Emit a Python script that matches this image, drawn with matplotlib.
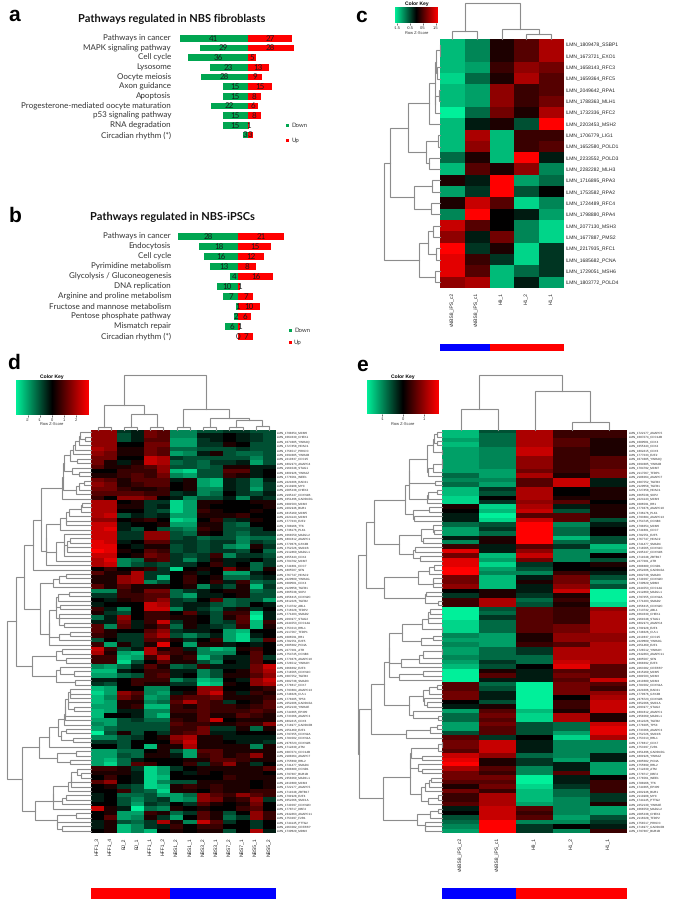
#!/usr/bin/env python
# coding=utf-8
import numpy as np
import matplotlib
matplotlib.use('Agg')
import matplotlib.pyplot as plt
from matplotlib.colors import LinearSegmentedColormap, ListedColormap

plt.rcParams['text.hinting'] = 'no_hinting'
plt.rcParams['text.hinting_factor'] = 1

W, H = 675, 901

# bar panels
a_paths = ['Pathways in cancer', 'MAPK signaling pathway', 'Cell cycle', 'Lysosome', 'Oocyte meiosis',
           'Axon guidance', 'Apoptosis', 'Progesterone-mediated oocyte maturation', 'p53 signaling pathway',
           'RNA degradation', 'Circadian rhythm (*)']
a_down = [41, 29, 36, 23, 28, 15, 15, 22, 15, 15, 3]
a_up = [27, 28, 5, 13, 9, 15, 8, 6, 8, 1, 3]

b_paths = ['Pathways in cancer', 'Endocytosis', 'Cell cycle', 'Pyrimidine metabolism', 'Glycolysis / Gluconeogenesis',
           'DNA replication', 'Arginine and proline metabolism', 'Fructose and mannose metabolism',
           'Pentose phosphate pathway', 'Mismatch repair', 'Circadian rhythm (*)']
b_down = [28, 18, 16, 13, 4, 10, 7, 1, 2, 6, 0]
b_up = [21, 15, 12, 8, 16, 1, 7, 10, 6, 1, 7]

c_cols = ['vNBS8_iPS_c2', 'vNBS8_iPS_c1', 'H9_1', 'H1_2', 'H1_1']
c_rows = ['ILMN_1809478_SSBP1', 'ILMN_1673721_EXO1', 'ILMN_1658143_RFC3', 'ILMN_1659364_RFC5', 'ILMN_2049642_RPA1',
          'ILMN_1788363_MLH1', 'ILMN_1732336_RFC2', 'ILMN_2203453_MSH2', 'ILMN_1706779_LIG1', 'ILMN_1652580_POLD1',
          'ILMN_2233552_POLD3', 'ILMN_2282282_MLH3', 'ILMN_1716895_RPA3', 'ILMN_1753582_RPA2', 'ILMN_1724489_RFC4',
          'ILMN_1798880_RPA4', 'ILMN_2077130_MSH3', 'ILMN_1677887_PMS2', 'ILMN_2217935_RFC1', 'ILMN_1685682_PCNA',
          'ILMN_1729051_MSH6', 'ILMN_1803772_POLD4']
c_vals = [
    [-7, -5, 1, 3, 6], [-7, -5, 1, 3, 6], [-7, -6, 2, 5, 4], [-8, -4, 1, 6, 3], [-7, -6, 5, 2, 3],
    [-7, -6, 5, 2, 4], [-9, -4, 4, 1, 6], [-7, -1, 1, -3, 9], [-7, 6, -7, 2, 2], [-7, 5, -7, 2, 3],
    [-4, 1, -7, 9, -1], [-7, 3, 1, 5, -5], [1, -1, 9, -6, -4], [-6, -2, 9, -3, 0], [1, 7, 3, -8, -5],
    [-5, 9, 0, -1, -6], [7, 3, 0, -5, -8], [5, -1, 4, -5, -8], [9, -2, 1, -8, -2], [8, 2, -2, -8, -2],
    [8, 3, -7, -4, -2], [5, 6, -7, -1, -6],
]
c_groups = [0, 0, 1, 1, 1]

# heatmap d
d_cols = ['HFF1_3', 'HFF1_4', 'BJ_2', 'BJ_1', 'HFF1_1', 'HFF1_2', 'NBS1_2', 'NBS1_1', 'NBS3_2', 'NBS3_1',
          'NBS7_2', 'NBS7_1', 'NBS5_1', 'NBS5_2']
d_rows = ['1798654_MCM6', '1664630_CHEK1', '1674385_YWHAQ', '1727458_HDAC1', '1758517_PRKDC', '1694385_YWHAB',
          '2210837_CDC25', '1802973_ANAPC4', '2161048_STAG1', '1801926_YWHAZ', '1778561_WEE1', '2221606_RAD21',
          '2110908_MYC', '2085238_CHEK2', '2195247_CDKN1B', '1651496_GADD45G', '1681503_MCM2', '2202946_BUB1',
          '1815169_MCM5', '2224143_MCM3', '1777233_E2F2', '1788166_TTK', '1736176_PLK1', '1668550_MAD2L2',
          '1804812_ANAPC1', '1779376_GSK3B', '1752526_SMC1B', '2112460_MAD2L1', '1655443_CDK2', '1704792_MCM7',
          '1741801_CDC7', '1805507_SFN', '1767747_HDAC2', '2229809_YWHAG', '1689001_CDK4', '2129658_TGFB1',
          '1665538_SKP2', '1656415_CDKN2C', '1812026_TGFB2', '1713732_ABL1', '1716028_TFDP2', '1771203_SMAD2',
          '2093977_STAG2', '2244553_CDC14A', '1753013_RBL1', '2117567_TFDP1', '1686591_RB1', '1782551_E2F5',
          '1685682_PCNA', '2277201_ATR', '1754745_CCNB3', '1770376_ANAPC10', '1728512_YWHAH', '1668692_E2F3',
          '1718565_CDKN1C', '1687552_TGFB3', '1682738_SMAD3', '1778817_CDK7', '1793884_ANAPC13', '1748626_CUL1',
          '1778205_TP53', '2052206_GADD45A', '2252130_YWHAE', '1744665_EP300', '1733066_ANAPC2', '1802615_CDK6',
          '1718977_GADD45B', '2051469_E2F1', '1797255_CDKN2A', '1784002_CDKN1A', '2376723_CDKN2B', '1712630_ATM',
          '1687074_CDC14B', '2188264_ANAPC7', '1755899_RBL2', '1741477_SMAD4', '1688480_CCND1', '1797307_BUB1B',
          '2358069_MAD1L1', '2410880_MCM4', '1722177_ANAPC5', '1711048_ZBTB17', '1791928_E2F4', '1652066_SMC1A',
          '1740097_CDKN2D', '1778717_DBF4', '2342663_ANAPC11', '1753297_F2R1', '1744145_PTTG2', '2263082_CREBBP',
          '1739829_MDM2']
d_vals = [
    [5, 5, -2, -1, 4, 3, -5, -5, -3, -3, -2, -2, -3, -3],
    [5, 5, -3, -1, 4, 3, -5, -5, -1, -1, 0, -1, -2, -3],
    [5, 5, -3, -1, 3, 3, -6, -6, -2, -1, 0, -1, -2, -3],
    [5, 5, 0, 0, 4, 4, -6, -6, -2, -2, 1, 0, -3, -3],
    [6, 5, 1, 1, 4, 3, -4, -4, -3, -3, -3, -2, -3, -3],
    [5, 4, 1, 1, 4, 3, -6, -5, -1, 1, -3, -4, -4, -3],
    [4, 4, 0, 0, 7, 6, -2, -3, -3, -3, -3, -3, -5, -3],
    [4, 1, -1, 1, 7, 6, -4, -3, -4, -2, -2, -1, -6, -3],
    [3, 1, 1, 2, 3, 5, -3, -3, -4, -3, 1, 1, -1, -1],
    [0, 0, 2, 2, 2, 5, -7, -8, -3, -3, 3, 3, -1, 0],
    [1, 1, 2, 3, 2, 4, -5, -6, -3, -3, 2, 1, -1, 0],
    [4, 3, 1, 3, 3, 3, -1, 1, -6, -7, -1, -2, -5, -1],
    [5, 4, 1, 2, 3, 3, 0, 1, -6, -7, -1, -2, -5, -2],
    [4, 4, 2, 1, 1, 2, 0, 1, -5, -5, -1, -2, -6, -2],
    [3, 3, 3, 3, 2, 2, -2, -1, -5, -4, 0, -2, -3, -1],
    [2, 0, 5, 5, 4, 0, -1, -5, -3, -3, -1, -5, -1, -2],
    [6, 6, 0, 1, -2, -2, -8, -6, 1, 1, 0, 0, 1, 1],
    [6, 6, 1, 1, -2, -1, -8, -6, 1, 0, 0, 0, 0, 1],
    [6, 6, 0, 0, -2, -3, -8, -6, 2, 1, 0, 0, 1, 0],
    [6, 7, -3, -1, -2, -1, -6, -6, 1, 1, 1, 2, 0, 0],
    [5, 5, 0, 1, 2, 0, -8, -7, 0, 2, -2, -1, 1, 0],
    [7, 7, -1, 0, 0, 1, -6, -6, 1, 1, -3, -4, 0, 0],
    [7, 8, -1, -3, 0, -3, -4, -5, 2, 1, -3, -3, -2, 0],
    [7, 7, -2, -2, 5, 5, -3, -4, 1, 0, -3, -4, -2, -2],
    [7, 7, -2, -2, 5, 5, -3, -2, -4, -3, -3, -5, -4, -4],
    [8, 7, -1, 0, 3, 3, -2, -2, -3, -2, -2, -5, -2, -3],
    [8, 8, 0, -1, 1, 1, -3, -2, -3, -2, -5, -6, 1, -2],
    [9, 8, 1, 0, 3, 2, -3, -2, -3, -2, -2, -3, 0, -4],
    [7, 7, 0, 1, 4, 3, -2, -3, -2, 2, -5, -2, -2, -3],
    [6, 8, -5, -4, 2, 3, -2, -5, -2, 1, -1, -1, 0, -2],
    [6, 7, -5, -3, -2, -3, -2, -2, 0, 2, -1, 0, -4, -2],
    [0, 2, 0, 1, 2, -2, -8, 0, 1, 0, 4, 1, -4, 1],
    [3, 1, 1, 6, -2, -2, 0, 1, -1, 0, -6, -6, -1, 0],
    [1, 1, 5, 6, -2, -7, 0, 2, 0, 1, -4, -4, -2, -1],
    [1, 1, 5, 6, -5, -3, 0, 2, 0, 2, -1, 2, -4, -3],
    [3, 1, 3, 1, 1, 1, 0, 1, -5, -1, -3, 1, -7, -2],
    [-5, -5, 2, 1, 4, 4, -4, -2, -1, 0, 1, 1, -4, -3],
    [-2, -2, 2, 2, 3, 3, -4, -6, -1, -1, 0, 1, -3, -3],
    [0, -1, 1, 2, 3, 5, -2, -3, 0, 3, -4, -3, -3, -6],
    [-1, 0, 0, 0, 7, 6, -2, -1, -1, -3, -4, -3, 0, -1],
    [2, -1, -5, 0, 7, 7, -5, -1, -2, -4, -1, 1, -2, 0],
    [1, -2, -3, 0, 2, 2, 0, 3, -1, -3, 2, 2, -8, -1],
    [-4, -1, 5, 0, 2, 2, 1, 1, 0, -3, 1, 3, -9, -1],
    [-1, -1, 4, -1, 2, 7, -2, 1, 0, -3, -2, 3, -7, 2],
    [3, -5, 3, -1, 1, 3, -4, 1, -1, -2, -3, 2, -7, 1],
    [3, 1, 0, 0, 3, 5, -2, -1, -1, 0, -6, -7, 0, 0],
    [2, 1, -2, -2, 4, 6, -3, -5, -3, -1, -6, -8, -1, 0],
    [-3, 0, -2, -2, 3, 3, 1, -2, 0, 2, -6, -8, -3, 3],
    [2, -6, 1, -2, 1, 8, 0, -6, 1, 1, -1, 0, -1, 0],
    [7, 2, -3, -1, 6, 1, 2, -1, -5, -7, -6, 1, 2, 0],
    [6, 1, -6, -7, 6, 3, 2, 1, -5, -5, -5, 0, 3, 0],
    [2, 2, -7, -6, 2, 6, 1, 2, -7, -4, -1, -1, 3, -2],
    [2, 2, -8, -3, 0, 3, 1, 1, -3, -5, 0, -1, 3, 0],
    [-5, -6, -4, -1, 3, 1, -4, -3, 2, -1, -1, -1, 4, 7],
    [-7, -7, -1, 0, 2, 2, -1, -1, -5, -3, 0, 1, 4, 6],
    [-6, -6, -4, -3, 2, 3, -1, 0, -5, -3, 1, 1, 3, 5],
    [-1, -1, 0, 2, 2, 2, -5, -3, -7, -6, 0, -1, 5, 7],
    [-2, -3, 0, 2, 1, 1, -2, -2, -8, -7, 1, 0, 5, 6],
    [-7, -6, 0, 0, -5, -5, 0, 0, 5, 5, 0, 0, 1, 2],
    [-8, -6, 5, 3, -5, -6, -1, 1, 5, 7, 1, -1, 2, 1],
    [-7, -5, 4, 2, -6, -5, 2, 3, 3, 4, 1, 1, 1, 2],
    [-7, -6, 1, 1, -5, -4, 3, 6, 3, 2, -2, 0, 1, 3],
    [-6, -6, 1, 2, -7, -7, 2, 1, 3, 2, 2, 1, 2, 3],
    [-7, -6, -1, -1, -5, -5, 2, 2, 3, 2, 2, 2, 3, 2],
    [-7, 0, 0, -1, -5, -7, 1, 1, 3, 1, 1, 3, 2, 1],
    [-6, -6, -3, -2, -4, -4, 2, 1, 3, 7, 0, 1, 1, 1],
    [-5, -6, -3, -3, -3, -3, 3, 2, 2, 1, 1, 2, 2, 5],
    [-6, -4, -3, -3, -3, -3, 2, 2, 4, -2, -2, 1, -4, 1],
    [-9, -3, 1, -3, 0, -2, 2, 3, 4, -1, -1, 0, 0, 0],
    [-5, -5, -3, -2, 0, 1, 5, 6, 1, 1, -1, -1, -1, -1],
    [-2, -2, -3, 0, 0, 0, 4, 7, 1, 1, 0, -1, -1, -2],
    [0, 0, -3, 0, -7, 1, 1, 6, 1, 1, 1, 1, -5, 1],
    [-6, -6, -4, -4, 0, 1, -3, -6, 3, 3, 1, 1, 1, 1],
    [-6, -6, -3, -4, 1, 1, -1, -6, 2, 3, 1, 2, 5, 1],
    [-6, -7, -4, -1, 0, 0, 0, 1, 1, 3, 3, 2, 1, 1],
    [-6, -8, -4, 3, 2, 0, 0, 2, -2, 2, 5, 1, -2, 0],
    [2, 2, 1, -2, -8, -6, -2, 0, 1, 1, 1, 1, 1, 3],
    [1, 1, 1, -1, -8, -6, 0, -1, 1, 0, 1, 1, 1, 0],
    [0, 2, 0, -1, -8, -7, 0, 0, 0, 0, 2, 1, 1, 1],
    [3, 5, 0, -1, -8, -5, -3, -3, 1, 1, 1, 1, 0, 1],
    [0, 1, -2, -3, -8, -7, 1, 2, 1, 2, 1, 1, 0, 1],
    [0, 0, 2, -3, -4, -8, 1, 1, 0, 2, 1, 1, 2, 2],
    [-1, 0, -4, -4, -3, -6, -6, -4, 5, 3, 2, 5, 3, 2],
    [-1, 0, -3, -5, -3, -2, -6, -5, 5, 4, 1, 2, 5, -2],
    [0, 0, -3, -6, -2, -3, 0, -2, 3, 1, 0, 1, 4, 0],
    [7, 1, -1, -9, -4, -5, 1, 0, 1, 0, 0, 2, 3, 0],
    [0, 1, -6, -6, 2, 1, -4, -2, 3, 1, -3, 0, 5, 2],
    [0, 3, -6, -5, 1, -2, -6, 0, 3, 1, -4, -2, 5, 2],
    [-1, 1, -3, -4, -2, 6, 1, -5, 7, 3, -2, 0, -2, 0],
    [-1, 1, -7, -5, -2, -1, 2, 0, 2, 2, 0, 0, -2, 0],
    [0, 1, -7, -5, -7, 0, 1, 0, 1, 1, -3, 0, 6, -1],
]
d_groups = [1, 1, 1, 1, 1, 1, 0, 0, 0, 0, 0, 0, 0, 0]

# heatmap e
e_cols = ['vNBS8_iPS_c2', 'vNBS8_iPS_c1', 'H9_1', 'H1_2', 'H1_1']
e_rows = ['1722177_ANAPC5', '1687074_CDC14B', '1689001_CDK4', '1655443_CDK2', '1802615_CDK6', '1777233_E2F2',
          '1674385_YWHAQ', '1694385_YWHAB', '1704792_MCM7', '2117567_TFDP1', '2188264_ANAPC7', '1687552_TGFB3',
          '2129658_TGFB1', '1727458_HDAC1', '1665538_SKP2', '2224143_MCM3', '1686591_RB1', '1770376_ANAPC10',
          '1736176_PLK1', '1793884_ANAPC13', '1754745_CCNB3', '1798654_MCM6', '1741801_CDC7', '1782551_E2F5',
          '1767747_HDAC2', '1741477_SMAD4', '1718565_CDKN1C', '2195247_CDKN1B', '1711048_ZBTB17', '2277201_ATR',
          '1688480_CCND1', '2052206_GADD45A', '1682738_SMAD3', '1740097_CDKN2D', '1739829_MDM2', '2244553_CDC14A',
          '2112460_MAD2L1', '1797255_CDKN2A', '1771203_SMAD2', '1656415_CDKN2C', '1713732_ABL1', '1664630_CHEK1',
          '2161048_STAG1', '1802973_ANAPC4', '1791928_E2F4', '1748626_CUL1', '2210837_CDC25', '2229809_YWHAG',
          '2051469_E2F1', '1728512_YWHAH', '2342663_ANAPC11', '1805507_SFN', '1668692_E2F3', '2263082_CREBBP',
          '1815169_MCM5', '1681503_MCM2', '2410880_MCM4', '1784002_CDKN1A', '2221606_RAD21', '1779376_GSK3B',
          '2376723_CDKN2B', '1652066_SMC1A', '2093977_STAG2', '1804812_ANAPC1', '2358069_MAD1L1', '1812026_TGFB2',
          '1778205_TP53', '1733066_ANAPC2', '1752526_SMC1B', '1753013_RBL1', '1778817_CDK7', '1753297_F2R1',
          '1651496_GADD45G', '1801926_YWHAZ', '1685682_PCNA', '1755899_RBL2', '1712630_ATM', '1778717_DBF4',
          '1778561_WEE1', '1788166_TTK', '1744665_EP300', '2202946_BUB1', '2110908_MYC', '1744145_PTTG2',
          '2252130_YWHAE', '1668550_MAD2L2', '2085238_CHEK2', '2116028_TFDP2', '1758517_PRKDC', '1718977_GADD45B',
          '1797307_BUB1B']
e_vals = [
    [-7, -3, 6, 2, 2], [-7, -4, 6, 2, 2], [-6, -4, 6, 3, 1], [-7, -4, 6, 3, 1], [-6, -5, 7, 2, 1],
    [-6, -5, 7, 2, 1], [-6, -5, 5, 2, 3], [-6, -5, 5, 2, 3], [-6, -5, 5, 2, 3], [-6, -6, 4, 2, 4],
    [-4, -6, 6, 1, 4], [-5, -5, 3, 7, -1], [-4, -6, 3, 7, -1], [-7, -2, 6, 0, 1], [-7, -3, 6, 0, 1],
    [-8, 0, 6, 1, 1], [-8, -2, 5, 3, 0], [1, -8, 6, -1, 1], [0, -7, 7, -3, 1], [-1, -9, 3, 3, 1],
    [-1, -8, 7, 3, -3], [-4, -3, 9, -5, -1], [-6, -2, 9, -4, 0], [-6, -4, 9, -4, 0], [-1, 1, 9, -7, -3],
    [-5, 1, 9, -4, -3], [2, -1, 3, -2, -7], [8, -1, 5, -5, -6], [4, -7, 7, -5, 0], [8, -6, 4, -5, -3],
    [8, -8, -2, 0, 1], [9, -6, -3, 0, 0], [9, -5, -5, 2, -1], [4, -7, -1, 4, -3], [4, -7, 1, 4, -5],
    [5, -7, -1, 5, -3], [0, 1, -1, 7, -9], [-2, 1, -2, 1, -9], [2, 6, -4, 2, -9], [2, 6, -3, 1, -8],
    [-9, -3, 3, 2, 5], [-9, -4, 3, 2, 6], [-9, -2, 3, 2, 6], [-8, -4, 3, 2, 6], [-8, -4, 3, 4, 6],
    [-8, -4, 3, 4, 6], [-5, -6, 1, 5, 5], [-6, -6, 1, 5, 5], [-5, -6, 2, 3, 6], [-6, -4, -2, 6, 6],
    [-6, -4, -2, 6, 6], [-5, -4, -4, 6, 6], [-6, -2, -4, 7, 6], [-7, -3, 0, 8, 3], [-9, 1, -1, 3, 3],
    [-9, 3, -1, 4, 3], [-9, -1, -1, 3, 7], [3, -4, -9, 4, 3], [3, -3, -9, 4, 2], [4, -1, -9, 4, 5],
    [4, -1, -9, 0, 6], [0, -3, -9, 2, 7], [-1, 1, -9, 2, 7], [-6, 3, -7, 1, 7], [-4, 4, -8, 6, 1],
    [-4, 3, -8, 6, 1], [-6, 4, -3, -4, 7], [-6, 3, -3, -4, 8], [-3, 3, -3, -6, 8], [3, -2, 0, -8, 6],
    [4, 7, -1, -5, -5], [4, 7, -1, -5, -5], [3, 7, -1, -5, -5], [7, 5, -4, -5, -1], [8, 1, -2, -6, -1],
    [9, 1, -2, -1, -6], [6, 3, -5, -1, -6], [4, 2, -5, 3, -6], [4, 4, -9, -1, 0], [3, 3, -9, -1, 2],
    [1, 4, -8, -2, 2], [4, 2, -7, -4, 2], [2, 6, -7, -4, -2], [2, 6, -7, -5, -2], [3, 6, -6, -5, 1],
    [-1, 7, 3, -5, -6], [0, 7, 2, -5, -6], [-3, 7, 3, -6, -3], [-4, 9, -5, -5, -2], [-5, 9, -2, 0, -1],
    [-6, 9, -2, -5, 2],
]
e_groups = [0, 0, 1, 1, 1]

# dendrograms: (height, left, right), int = leaf, [first, last, height] = 1-based rows clustered below that height
c_col_tree = (1, (.215, 0, 1), (.29, 2, (.15, 3, 4)))
c_row_tree = (1, (.886, (.57, (.2, [1, 7, .09], 7), (.257, (.04, 8, 9), (.2, 10, 11))),
                  (.46, (.14, 12, 13), (.16, 14, 15))),
              (.377, (.22, (.12, 16, 17), (.07, 18, 19)), (.09, 20, 21)))
d_col_tree = (1, (.455, (.06, 0, 1), (.285, (.06, 2, 3), (.06, 4, 5))),
              (.38, (.06, 6, 7), (.21, (.06, 8, 9), (.18, (.06, 10, 11), (.08, 12, 13)))))
d_row_tree = (1, (.89, (.796, (.69, (.6, [1, 16, .35], [17, 31, .53]), 31), (.61, [33, 36, .45], [37, 49, .5])),
                  (.70, [50, 53, .42], [54, 58, .42])),
              (.824, (.62, [59, 72, .5], [73, 76, .4]), (.67, [77, 86, .45], [87, 91, .4])))
e_col_tree = (1, (.39, 0, 1), (.71, 2, (.14, 3, 4)))
e_row_tree = (1, (.91, (.81, [1, 21, .445], [22, 30, .51]), (.69, [31, 36, .28], [37, 40, .2])),
              (.99, (.85, (.69, [41, 57, .63], [58, 66, .39]), [67, 70, .425]),
               (.70, [71, 85, .385], [86, 91, .30])))

key_cmap = LinearSegmentedColormap.from_list('key', ['#00F09A', '#000000', '#FF0000'])
group_cmap = ListedColormap(['#0000FF', '#FF0000'])
GREY = '#8c8c8c'
LABEL_FONT = 'Liberation Sans'
BAR_FONT = 'Lato'

fig = plt.figure(figsize=(W / 100, H / 100), dpi=100)


def px_axes(x0, y0, x1, y1):
    # axes placed by picture pixels
    return fig.add_axes([x0 / W, 1 - y1 / H, (x1 - x0) / W, (y1 - y0) / H])


def auto_tree(mat, first, last, top):
    # agglomerate neighbouring rows only, the row order stays as drawn
    items = [(i, mat[i].astype(float), 1) for i in range(first - 1, last)]
    while len(items) > 1:
        dist = [np.linalg.norm(items[i][1] - items[i + 1][1]) for i in range(len(items) - 1)]
        k = int(np.argmin(dist))
        l, r = items[k], items[k + 1]
        h = dist[k]
        for n in (l[0], r[0]):
            if not isinstance(n, int):
                h = max(h, n[0])
        n = l[2] + r[2]
        items[k:k + 2] = [((h, l[0], r[0]), (l[1] * l[2] + r[1] * r[2]) / n, n)]
    root = items[0][0]

    def scale(node, f):
        if isinstance(node, int):
            return node
        return (node[0] * f, scale(node[1], f), scale(node[2], f))
    return scale(root, top / root[0])


def expand(spec, mat):
    if isinstance(spec, list):
        return auto_tree(mat, spec[0], spec[1], spec[2])
    if isinstance(spec, int):
        return spec
    return (spec[0], expand(spec[1], mat), expand(spec[2], mat))


def draw_tree(ax, node, vertical):
    if isinstance(node, int):
        return node, 0.0
    h, left, right = node
    pl, hl = draw_tree(ax, left, vertical)
    pr, hr = draw_tree(ax, right, vertical)
    ps, hs = [pl, pl, pr, pr], [hl, h, h, hr]
    if vertical:
        ax.plot(ps, hs, color=GREY, lw=0.8, solid_joinstyle='miter', clip_on=False)
    else:
        ax.plot(hs, ps, color=GREY, lw=0.8, solid_joinstyle='miter', clip_on=False)
    return (pl + pr) / 2, h


def heatmap(vals, rows, cols, groups, col_tree, row_tree, box, col_top, row_left, group_y, lab_size, col_size, col_gap):
    mat = np.array(vals)
    x0, y0, x1, y1 = box
    ax = px_axes(x0, y0, x1, y1)
    ax.imshow(mat, cmap=key_cmap, vmin=-9, vmax=9, aspect='auto', interpolation='nearest')
    ax.set_yticks(range(len(rows)))
    ax.set_yticklabels(rows, fontsize=lab_size, family=LABEL_FONT, color='#222222')
    ax.yaxis.tick_right()
    ax.set_xticks(range(len(cols)))
    ax.set_xticklabels(cols, rotation=90, fontsize=col_size, family=LABEL_FONT, color='#222222')
    ax.tick_params(axis='x', length=0, pad=col_gap)
    ax.tick_params(axis='y', length=0, pad=1.2)
    for s in ax.spines.values():
        s.set_visible(False)

    top = px_axes(x0, col_top, x1, y0)
    draw_tree(top, expand(col_tree, mat), True)
    top.set_xlim(-0.5, len(cols) - 0.5)
    top.set_ylim(0, 1)
    top.axis('off')

    side = px_axes(row_left, y0, x0, y1)
    draw_tree(side, expand(row_tree, mat), False)
    side.set_xlim(1, 0)
    side.set_ylim(len(rows) - 0.5, -0.5)
    side.axis('off')

    bar = px_axes(x0, group_y[0], x1, group_y[1])
    bar.imshow([groups], cmap=group_cmap, vmin=0, vmax=1, aspect='auto')
    bar.axis('off')


def color_key(box, lim, ticks, ticklabels, title_y, label_y, size):
    x0, y0, x1, y1 = box
    ax = px_axes(x0, y0, x1, y1)
    grad = np.linspace(-lim, lim, 256)[None, :]
    ax.imshow(grad, cmap=key_cmap, aspect='auto', extent=[-lim, lim, 0, 1], vmin=-lim, vmax=lim)
    ax.set_yticks([])
    ax.set_xticks(ticks)
    ax.set_xticklabels(ticklabels, fontsize=size, family=LABEL_FONT, color='#333333')
    ax.tick_params(length=1.2, width=0.4, pad=0.8)
    for s in ax.spines.values():
        s.set_visible(False)
    xc = (x0 + x1) / 2
    fig.text(xc / W, 1 - title_y / H, 'Color Key', ha='center', va='center', fontsize=size + 0.6,
             family=LABEL_FONT, fontweight='bold')
    fig.text(xc / W, 1 - label_y / H, 'Row Z-Score', ha='center', va='center', fontsize=size,
             family=LABEL_FONT, color='#333333')


def bar_panel(paths, down, up, zero, unit, y_first, y_step, title, title_y, legend_x, legend_y):
    n = len(paths)
    x0, x1 = 150, 335
    ax = px_axes(x0, y_first - y_step / 2, x1, y_first + (n - 0.5) * y_step)
    ax.barh(range(n), -np.array(down), height=0.68, color='#00A651')
    ax.barh(range(n), up, height=0.68, color='#FF0000')
    ax.set_xlim((x0 - zero) / unit, (x1 - zero) / unit)
    ax.set_ylim(n - 0.5, -0.5)
    ax.axis('off')
    for i in range(n):
        ax.text(-down[i] / 2, i, str(down[i]), ha='center', va='center', fontsize=5.6, family=BAR_FONT, color='#1a1a1a')
        ax.text(up[i] / 2, i, str(up[i]), ha='center', va='center', fontsize=5.6, family=BAR_FONT, color='#1a1a1a')
        fig.text(171 / W, 1 - (y_first + i * y_step) / H, paths[i], ha='right', va='center', fontsize=5.45,
                 family=BAR_FONT, color='#333333')
    fig.text(172 / W, 1 - title_y / H, title, ha='center', va='center', fontsize=7.6, family=BAR_FONT,
             fontweight='bold', color='#111111')
    for lab, col, ly in zip(['Down', 'Up'], ['#00A651', '#FF0000'], legend_y):
        lg = px_axes(legend_x, ly - 1.5, legend_x + 3, ly + 1.5)
        lg.set_facecolor(col)
        lg.set_xticks([])
        lg.set_yticks([])
        for s in lg.spines.values():
            s.set_visible(False)
        fig.text((legend_x + 5) / W, 1 - ly / H, lab, ha='left', va='center', fontsize=4.2, family=BAR_FONT,
                 color='#333333')


bar_panel(a_paths, a_down, a_up, 247.6, 1.65, 38.3, 9.67, 'Pathways regulated in NBS fibroblasts', 18.5, 286, [125.7, 140])
bar_panel(b_paths, b_down, b_up, 238.3, 2.17, 236.7, 10.0, 'Pathways regulated in NBS-iPSCs', 216.7, 289, [330.3, 342.3])

heatmap(c_vals, c_rows, c_cols, c_groups, c_col_tree, c_row_tree, (440, 39, 563.5, 288), 3, 384, (344, 351), 3.9, 3.6, 3)
heatmap(d_vals, ['ILMN_' + r for r in d_rows], d_cols, d_groups, d_col_tree, d_row_tree, (91, 430, 275.5, 833), 375, 7, (888, 899), 2.4, 3.6, 3)
heatmap(e_vals, ['ILMN_' + r for r in e_rows], e_cols, e_groups, e_col_tree, e_row_tree, (442, 430, 627, 833), 375, 358, (888, 899), 2.4, 3.6, 3)

color_key((395, 7, 438, 23), 1.68, [-1.5, -0.5, 0.5, 1.5], ['-1.5', '-0.5', '0.5', '1.5'], 4, 33, 2.8)
color_key((16, 380, 88, 415), 3.0, [-2, -1, 0, 1, 2], ['-2', '-1', '0', '1', '2'], 377, 424, 3.2)
color_key((367, 380, 439, 414), 1.75, [-1, 0, 1], ['-1', '0', '1'], 377, 424, 3.2)

for letter, lx, ly in [('a', 14, 15), ('b', 15, 216), ('c', 361, 16), ('d', 14, 363), ('e', 362, 365)]:
    fig.text(lx / W, 1 - ly / H, letter, ha='center', va='center', fontsize=15, fontweight='bold', family='Liberation Sans')

fig.savefig('out.png', dpi=100)
